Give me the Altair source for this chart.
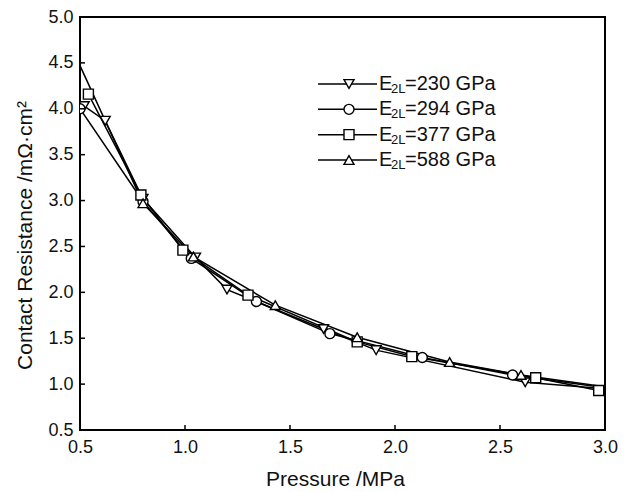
import altair as alt
import pandas as pd

# ---- data ----
SERIES = ["E2L=230 GPa", "E2L=294 GPa", "E2L=377 GPa", "E2L=588 GPa"]
LEG_MAIN = ["E", "E", "E", "E"]
LEG_SUB = ["2L", "2L", "2L", "2L"]
LEG_REST = ["=230 GPa", "=294 GPa", "=377 GPa", "=588 GPa"]
SHAPES = ["triangle-down", "circle", "square", "triangle-up"]

P_230 = [0.52, 0.62, 0.80, 1.05, 1.20, 1.66, 1.91, 2.62, 3.10]
R_230 = [4.03, 3.87, 3.02, 2.38, 2.03, 1.60, 1.37, 1.02, 0.93]
P_294 = [0.50, 0.80, 1.03, 1.34, 1.69, 2.13, 2.56, 3.10]
R_294 = [4.00, 2.99, 2.37, 1.90, 1.55, 1.29, 1.10, 0.93]
P_377 = [0.54, 0.79, 0.99, 1.30, 1.82, 2.08, 2.67, 2.97]
R_377 = [4.16, 3.06, 2.46, 1.97, 1.46, 1.30, 1.07, 0.93]
P_588 = [0.45, 0.80, 1.04, 1.43, 1.82, 2.26, 2.60, 3.10]
R_588 = [4.72, 2.97, 2.39, 1.86, 1.51, 1.24, 1.10, 0.94]

X_TICKS = [0.5, 1.0, 1.5, 2.0, 2.5, 3.0]
Y_TICKS = [0.5, 1.0, 1.5, 2.0, 2.5, 3.0, 3.5, 4.0, 4.5, 5.0]

rows = []
for lab, ps, rs in zip(SERIES, [P_230, P_294, P_377, P_588], [R_230, R_294, R_377, R_588]):
    for p, r in zip(ps, rs):
        rows.append({"series": lab, "P": p, "R": r})
df = pd.DataFrame(rows)
ldf = pd.DataFrame({"series": SERIES, "main": LEG_MAIN, "sub": LEG_SUB, "rest": LEG_REST})

W, H = 525, 413
FONT = "Liberation Sans"
INK = "#111"

xscale = alt.Scale(domain=[0.5, 3.0], nice=False, zero=False)
yscale = alt.Scale(domain=[0.5, 5.0], nice=False, zero=False)
shape_scale = alt.Scale(domain=SERIES, range=SHAPES)

x_axis = alt.Axis(values=X_TICKS, format=".1f", title="Pressure /MPa", labelFlush=False,
                  labelPadding=8, titlePadding=12, titleX=255)
y_axis = alt.Axis(values=Y_TICKS, format=".1f", title="Contact Resistance /mΩ·cm²", labelFlush=False,
                  labelPadding=7, titlePadding=12, titleY=218)

x_enc = alt.X("P:Q", scale=xscale, axis=x_axis)

lines = alt.Chart(df).mark_line(color="black", strokeWidth=1.5, clip=True).encode(
    x=x_enc, y=alt.Y("R:Q", scale=yscale, axis=y_axis), detail="series:N", order="P:Q"
)

points = alt.Chart(df).mark_point(
    filled=True, fill="white", stroke="black", strokeWidth=1.4, size=100, opacity=1, clip=True
).encode(
    x=x_enc, y=alt.Y("R:Q", scale=yscale, axis=None),
    shape=alt.Shape("series:N", scale=shape_scale, legend=None),
)

xticks = alt.Chart(pd.DataFrame({"P": X_TICKS})).mark_rule(color="black", strokeWidth=1.5).encode(
    x=x_enc, y=alt.value(H), y2=alt.value(H - 5)
)
yticks = alt.Chart(pd.DataFrame({"t": Y_TICKS})).mark_rule(color="black", strokeWidth=1.5).encode(
    y=alt.Y("t:Q", scale=yscale, axis=None), x=alt.value(0), x2=alt.value(5)
)

# ---- legend, drawn inside the plot ----
yleg = alt.Y("series:N", scale=alt.Scale(domain=SERIES, type="point", range=[67, 143], padding=0), axis=None)
leg_line = alt.Chart(ldf).mark_rule(color="black", strokeWidth=1.5).encode(
    y=yleg, x=alt.value(238), x2=alt.value(297)
)
leg_mark = alt.Chart(ldf).mark_point(
    filled=True, fill="white", stroke="black", strokeWidth=1.4, size=100, opacity=1
).encode(y=yleg, x=alt.value(269), shape=alt.Shape("series:N", scale=shape_scale, legend=None))
leg_main = alt.Chart(ldf).mark_text(align="left", baseline="middle", font=FONT, fontSize=20, color=INK).encode(
    y=yleg, x=alt.value(299), text="main:N"
)
leg_sub = alt.Chart(ldf).mark_text(align="left", baseline="middle", font=FONT, fontSize=13, color=INK, dy=5).encode(
    y=yleg, x=alt.value(311), text="sub:N"
)
leg_rest = alt.Chart(ldf).mark_text(align="left", baseline="middle", font=FONT, fontSize=20, color=INK).encode(
    y=yleg, x=alt.value(325), text="rest:N"
)

chart = alt.layer(
    lines, points, xticks, yticks, leg_line, leg_mark, leg_main, leg_sub, leg_rest
).resolve_scale(y="independent").properties(
    width=W, height=H,
    padding={"left": 72, "top": 9, "right": 25, "bottom": 60},
    autosize=alt.AutoSizeParams(type="none"),
).configure_view(
    stroke="black", strokeWidth=2
).configure_axis(
    domain=False, ticks=False, tickSize=0, grid=False,
    labelFont=FONT, labelFontSize=18, labelColor=INK,
    titleFont=FONT, titleFontSize=21, titleFontWeight="normal", titleColor=INK,
)

chart.save("out.html", embed_options={"renderer": "svg", "actions": False})
